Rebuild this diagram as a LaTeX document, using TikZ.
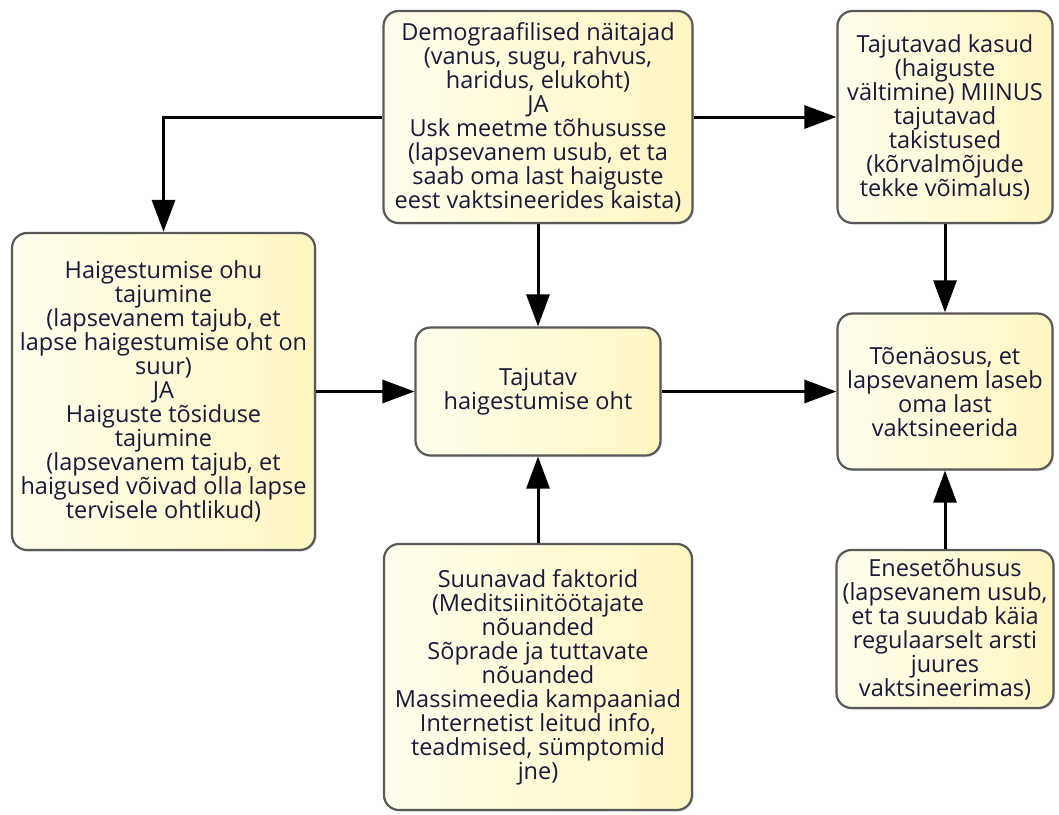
\documentclass[tikz,border=0pt]{standalone}
\usepackage{fontspec}
\setmainfont{Open Sans}
\usetikzlibrary{arrows.meta,shadows}
\begin{document}
\begin{tikzpicture}[x=1pt,y=-1pt,
    box/.style={draw=boxline, line width=2.2pt, rounded corners=15pt,
      left color=boxlight, right color=boxdark, text=boxtext,
      align=center, inner sep=0pt,
      drop shadow={opacity=0.25, shadow xshift=1.5pt, shadow yshift=-1.5pt},
      font=\fontsize{23.5pt}{24pt}\selectfont},
    arr/.style={line width=3pt, -{Triangle[length=32pt,width=23pt]}}]
% \clip (0,0) rectangle (1059.000000,814.000000);
\useasboundingbox (0,0) rectangle (1059,814);

% Changing color
\definecolor{boxline}{rgb}{0.350000,0.350000,0.350000}%
\definecolor{boxlight}{rgb}{1.000000,0.996000,0.930000}%
\definecolor{boxdark}{rgb}{1.000000,0.965000,0.760000}%
\definecolor{boxtext}{rgb}{0.100000,0.100000,0.230000}%

% Drawing boxes
\node [box, minimum width=309pt, minimum height=212pt] (demo) at (538,117)
  {Demograafilised näitajad\\(vanus, sugu, rahvus,\\haridus, elukoht)\\JA\\Usk meetme tõhususse\\(lapsevanem usub, et ta\\saab oma last haiguste\\eest vaktsineerides kaista)};%
\node [box, minimum width=215pt, minimum height=212pt] (benefit) at (945,117)
  {Tajutavad kasud\\(haiguste\\vältimine) MIINUS\\tajutavad\\takistused\\(kõrvalmõjude\\tekke võimalus)};%
\node [box, minimum width=303pt, minimum height=317pt] (threat) at (163.5,391.5)
  {Haigestumise ohu\\tajumine\\(lapsevanem tajub, et\\lapse haigestumise oht on\\suur)\\JA\\Haiguste tõsiduse\\tajumine\\(lapsevanem tajub, et\\haigused võivad olla lapse\\tervisele ohtlikud)};%
\node [box, minimum width=245pt, minimum height=128pt] (risk) at (538,391.5)
  {Tajutav\\haigestumise oht};%
\node [box, minimum width=215pt, minimum height=156pt] (likely) at (945,391.5)
  {Tõenäosus, et\\lapsevanem laseb\\oma last\\vaktsineerida};%
\node [box, minimum width=308pt, minimum height=266pt] (cues) at (538,677)
  {Suunavad faktorid\\(Meditsiinitöötajate\\nõuanded\\Sõprade ja tuttavate\\nõuanded\\Massimeedia kampaaniad\\Internetist leitud info,\\teadmised, sümptomid\\jne)};%
\node [box, minimum width=217pt, minimum height=158pt] (efficacy) at (945,629)
  {Enesetõhusus\\(lapsevanem usub,\\et ta suudab käia\\regulaarselt arsti\\juures\\vaktsineerimas)};%

% Drawing arrows
\draw [arr] (demo.west) -| (threat.north);%
\draw [arr] (demo.east) -- (benefit.west);%
\draw [arr] (demo.south) -- (risk.north);%
\draw [arr] (threat.east) -- (risk.west);%
\draw [arr] (risk.east) -- (likely.west);%
\draw [arr] (benefit.south) -- (likely.north);%
\draw [arr] (cues.north) -- (risk.south);%
\draw [arr] (efficacy.north) -- (likely.south);%
\end{tikzpicture}
\end{document}
